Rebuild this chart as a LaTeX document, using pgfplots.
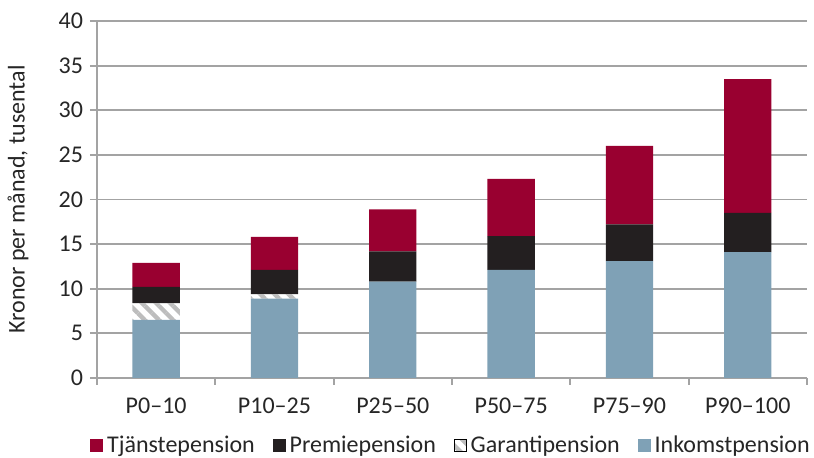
\documentclass[border=0pt]{standalone}
\usepackage{fontspec}
\setmainfont{Carlito}
\usepackage{pgfplots}
\pgfplotsset{compat=1.18}
\usetikzlibrary{patterns.meta}

\definecolor{tjanst}{HTML}{990030}
\definecolor{premie}{HTML}{231F20}
\definecolor{inkomst}{HTML}{7FA1B6}
\definecolor{gridgrey}{HTML}{A3A3A3}
\definecolor{hatch}{HTML}{BDBDBD}
\definecolor{textgrey}{HTML}{262626}

\tikzset{garanti/.style={pattern={Lines[angle=-45,distance=5pt,line width=2.2pt]},pattern color=hatch}}

\begin{document}
\begin{tikzpicture}
\begin{axis}[
  scale only axis,
  width=355pt, height=178.5pt,
  ybar stacked, bar width=0.4,
  xmin=-0.5, xmax=5.5, ymin=0, ymax=40,
  xtick={-0.5,0.5,...,5.5},
  x tick label as interval,
  xticklabels={P0–10,P10–25,P25–50,P50–75,P75–90,P90–100},
  ytick={0,5,...,40},
  ymajorgrids,
  grid style={gridgrey, line width=0.9pt},
  axis x line=bottom, axis y line=left,
  axis line style={gridgrey, line width=0.9pt, -},
  tick align=outside, major tick length=3.5pt,
  tick style={gridgrey, line width=0.9pt},
  tick label style={font=\fontsize{12}{14}\selectfont, textgrey},
  xticklabel style={yshift=-3pt},
  /pgf/number format/assume math mode=true,
  ylabel={Kronor per månad, tusental},
  ylabel style={at={(axis description cs:-0.1113,0.5)}, anchor=center,
    font=\fontsize{12}{14}\selectfont, textgrey},
  legend style={at={(axis description cs:0.5,-0.189)}, anchor=center,
    legend columns=-1, draw=none, fill=none,
    font=\fontsize{12}{14}\selectfont, text=textgrey,
    /tikz/every even column/.append style={column sep=7pt}},
  clip=false,
]
% legend entries, listed top of stack first
\addlegendimage{legend image code/.code={\fill[tjanst] (0pt,-3pt) rectangle (6pt,3pt);}}
\addlegendentry{Tjänstepension}
\addlegendimage{legend image code/.code={\fill[premie] (0pt,-3pt) rectangle (6pt,3pt);}}
\addlegendentry{Premiepension}
\addlegendimage{legend image code/.code={\fill[garanti] (0pt,-3pt) rectangle (6pt,3pt);}}
\addlegendentry{Garantipension}
\addlegendimage{legend image code/.code={\fill[inkomst] (0pt,-3pt) rectangle (6pt,3pt);}}
\addlegendentry{Inkomstpension}

\addplot[fill=inkomst, draw=none, forget plot] coordinates {(0,6.5) (1,8.9) (2,10.8) (3,12.1) (4,13.1) (5,14.1)};
\addplot[garanti, draw=none, forget plot] coordinates {(0,1.9) (1,0.5) (2,0) (3,0) (4,0) (5,0)};
\addplot[fill=premie, draw=none, forget plot] coordinates {(0,1.8) (1,2.7) (2,3.4) (3,3.8) (4,4.1) (5,4.4)};
\addplot[fill=tjanst, draw=none, forget plot] coordinates {(0,2.7) (1,3.7) (2,4.7) (3,6.4) (4,8.8) (5,15.0)};

\coordinate (bl) at (rel axis cs:0,0);
\coordinate (tr) at (rel axis cs:1,1);
\end{axis}
\pgfresetboundingbox
\path[use as bounding box] ([xshift=-48.5pt,yshift=-40pt]bl) rectangle ([xshift=3.5pt,yshift=10.5pt]tr);
\end{tikzpicture}
\end{document}
